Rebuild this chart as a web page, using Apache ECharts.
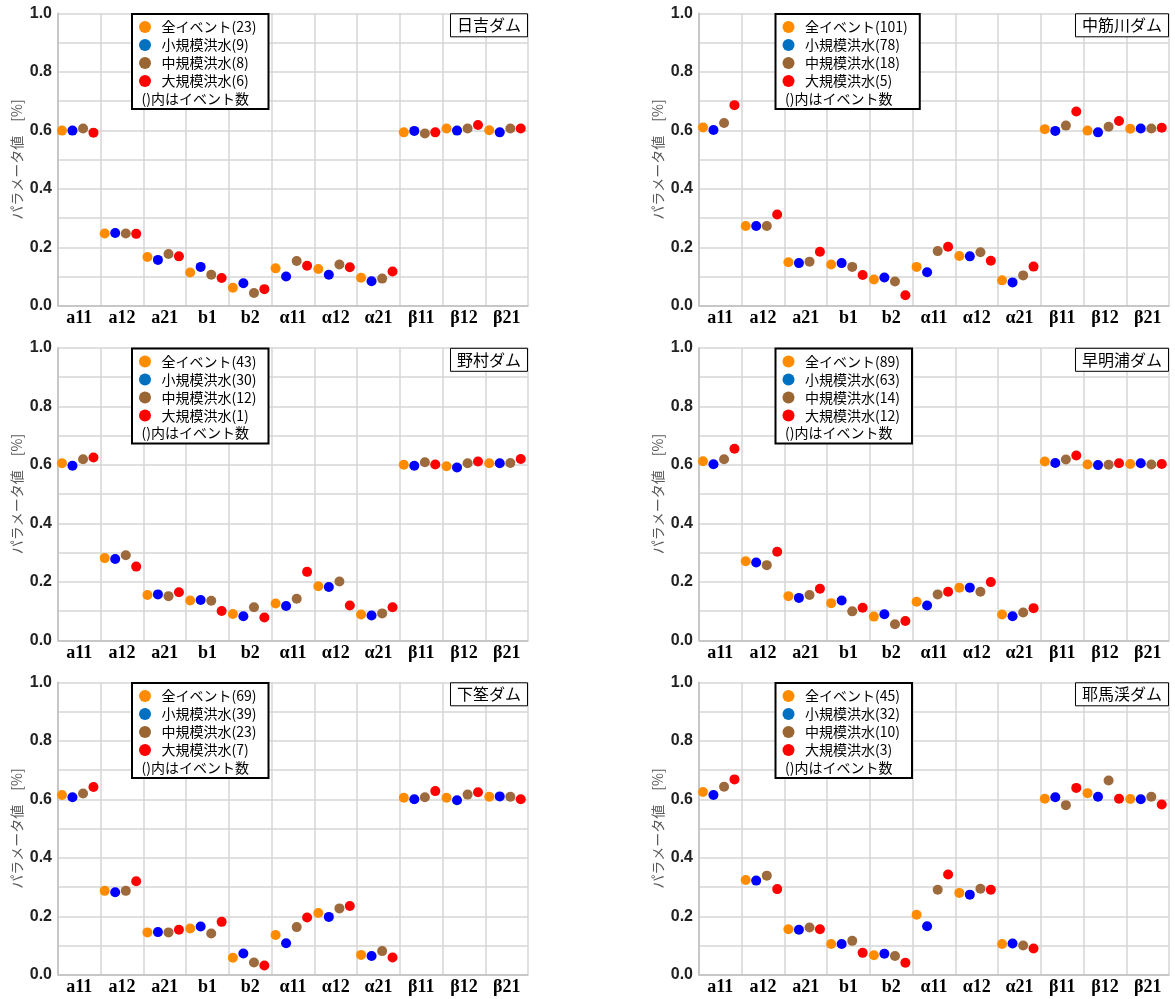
<!DOCTYPE html>
<html>
<head>
<meta charset="utf-8">
<script src="https://cdn.jsdelivr.net/npm/echarts@6/dist/echarts.min.js"></script>
<style>
html,body{margin:0;padding:0;background:#fff;}
#chart{width:1175px;height:999px;}
</style>
</head>
<body>
<div id="chart"></div>
<script>
// ---- categories / labels ----
const categories = ['a11','a12','a21','b1','b2','α11','α12','α21','β11','β12','β21'];
const yTicks = [0, 0.2, 0.4, 0.6, 0.8, 1.0];
const damNames = ['日吉ダム','中筋川ダム','野村ダム','早明浦ダム','下筌ダム','耶馬渓ダム'];
const groupNames = ['全イベント','小規模洪水','中規模洪水','大規模洪水'];
const noteText = '()内はイベント数';
const yAxisName = 'パラメータ値　[%]';

// event counts per dam: [all, small, medium, large]
const countsHiyoshi   = [23, 9, 8, 6];
const countsNakasuji  = [101, 78, 18, 5];
const countsNomura    = [43, 30, 12, 1];
const countsSameura   = [89, 63, 14, 12];
const countsShimouke  = [69, 39, 23, 7];
const countsYabakei   = [45, 32, 10, 3];

// ---- values (order: a11,a12,a21,b1,b2,α11,α12,α21,β11,β12,β21) ----
const hiyoshiAll    = [0.599,0.247,0.167,0.114,0.062,0.128,0.126,0.096,0.593,0.606,0.600];
const hiyoshiSmall  = [0.599,0.249,0.157,0.133,0.077,0.100,0.106,0.084,0.598,0.599,0.593];
const hiyoshiMedium = [0.606,0.247,0.177,0.106,0.044,0.153,0.141,0.093,0.589,0.606,0.606];
const hiyoshiLarge  = [0.592,0.246,0.169,0.095,0.057,0.137,0.132,0.117,0.593,0.618,0.606];

const nakasujiAll    = [0.610,0.273,0.149,0.141,0.090,0.133,0.170,0.087,0.604,0.599,0.605];
const nakasujiSmall  = [0.601,0.273,0.146,0.146,0.097,0.115,0.169,0.080,0.598,0.593,0.606];
const nakasujiMedium = [0.625,0.273,0.151,0.133,0.083,0.187,0.183,0.104,0.616,0.612,0.606];
const nakasujiLarge  = [0.686,0.312,0.185,0.105,0.036,0.202,0.154,0.134,0.664,0.632,0.609];

const nomuraAll    = [0.605,0.281,0.155,0.136,0.090,0.126,0.185,0.088,0.600,0.595,0.605];
const nomuraSmall  = [0.597,0.278,0.157,0.138,0.082,0.117,0.182,0.085,0.597,0.591,0.605];
const nomuraMedium = [0.619,0.291,0.151,0.135,0.113,0.142,0.201,0.092,0.609,0.605,0.606];
const nomuraLarge  = [0.625,0.252,0.164,0.100,0.078,0.234,0.119,0.113,0.601,0.611,0.620];

const sameuraAll    = [0.612,0.270,0.151,0.127,0.081,0.132,0.180,0.088,0.611,0.601,0.603];
const sameuraSmall  = [0.602,0.266,0.145,0.136,0.089,0.119,0.180,0.082,0.606,0.599,0.605];
const sameuraMedium = [0.619,0.257,0.155,0.099,0.055,0.157,0.166,0.095,0.618,0.600,0.601];
const sameuraLarge  = [0.655,0.303,0.176,0.111,0.066,0.166,0.199,0.110,0.632,0.605,0.603];

const shimoukeAll    = [0.615,0.287,0.145,0.158,0.058,0.136,0.211,0.068,0.605,0.605,0.609];
const shimoukeSmall  = [0.607,0.282,0.146,0.165,0.073,0.108,0.198,0.064,0.600,0.597,0.610];
const shimoukeMedium = [0.620,0.287,0.145,0.141,0.042,0.163,0.227,0.081,0.607,0.616,0.609];
const shimoukeLarge  = [0.642,0.320,0.154,0.181,0.032,0.196,0.235,0.059,0.628,0.624,0.600];

const yabakeiAll    = [0.625,0.324,0.156,0.105,0.067,0.205,0.280,0.105,0.602,0.621,0.601];
const yabakeiSmall  = [0.615,0.322,0.154,0.105,0.072,0.166,0.274,0.107,0.607,0.609,0.600];
const yabakeiMedium = [0.643,0.339,0.162,0.116,0.064,0.291,0.294,0.100,0.580,0.664,0.609];
const yabakeiLarge  = [0.668,0.293,0.156,0.075,0.041,0.343,0.291,0.090,0.639,0.602,0.582];

const panelData = [
  [hiyoshiAll, hiyoshiSmall, hiyoshiMedium, hiyoshiLarge],
  [nakasujiAll, nakasujiSmall, nakasujiMedium, nakasujiLarge],
  [nomuraAll, nomuraSmall, nomuraMedium, nomuraLarge],
  [sameuraAll, sameuraSmall, sameuraMedium, sameuraLarge],
  [shimoukeAll, shimoukeSmall, shimoukeMedium, shimoukeLarge],
  [yabakeiAll, yabakeiSmall, yabakeiMedium, yabakeiLarge]
];
const panelCounts = [countsHiyoshi, countsNakasuji, countsNomura, countsSameura, countsShimouke, countsYabakei];

// ---- styling ----
const markColors   = ['#FF8C00', '#0000FF', '#9C6A3C', '#FF0000'];
const legendColors = ['#FF8C00', '#0070C0', '#996633', '#FF0000'];
const dodge = [-17.4, -6.9, 3.7, 14.1];
const colLeft = [58, 699];
const rowTop = [13.3, 347.8, 682.3];
const plotW = 470, plotH = 292.5;
const legendLeft = [132, 775.5];
const cjk = '"Noto Sans CJK JP", "Noto Sans", sans-serif';
const gridColor = '#d6d6d6';

const grids = [], xAxes = [], yAxes = [], series = [], legends = [], titles = [], graphics = [];

for (let p = 0; p < 6; p++) {
  const col = p % 2, row = Math.floor(p / 2);
  const left = colLeft[col], top = rowTop[row];
  grids.push({ left: left, top: top, width: plotW, height: plotH, containLabel: false });
  xAxes.push({
    type: 'category', gridIndex: p, data: categories, boundaryGap: true,
    axisLine: { show: true, lineStyle: { color: '#bfbfbf', width: 1.5 } },
    axisTick: { show: false },
    splitLine: { show: true, interval: 0, lineStyle: { color: gridColor, width: 1.5 } },
    axisLabel: { interval: 0, margin: 4, color: '#000', fontSize: 18, fontWeight: 'bold',
      fontFamily: '"Liberation Serif", "DejaVu Serif", serif' }
  });
  yAxes.push({
    type: 'value', gridIndex: p, min: yTicks[0], max: yTicks[yTicks.length - 1], interval: 0.2,
    name: yAxisName, nameLocation: 'middle', nameGap: 34,
    nameTextStyle: { color: '#595959', fontSize: 14, fontFamily: cjk },
    axisLine: { show: true, lineStyle: { color: '#bfbfbf', width: 1.5 } },
    axisTick: { show: false },
    splitLine: { show: true, lineStyle: { color: gridColor, width: 1.5 } },
    minorTick: { show: false, splitNumber: 2 },
    minorSplitLine: { show: true, lineStyle: { color: gridColor, width: 1.5 } },
    axisLabel: { margin: 6, color: '#222', fontSize: 16, fontWeight: 'bold',
      fontFamily: '"Liberation Sans", Arial, sans-serif',
      formatter: v => v.toFixed(1) }
  });
  const names = groupNames.map((g, k) => g + '(' + panelCounts[p][k] + ')');
  for (let k = 0; k < 4; k++) {
    series.push({
      type: 'scatter', name: names[k], xAxisIndex: p, yAxisIndex: p,
      data: panelData[p][k], symbol: 'circle', symbolSize: 10,
      symbolOffset: [dodge[k], 0],
      itemStyle: { color: markColors[k], opacity: 1 },
      emphasis: { disabled: true }, z: 3 + k
    });
  }
  legends.push({
    orient: 'vertical', left: legendLeft[col], top: top + 0.7,
    data: names.map((n, k) => ({ name: n, icon: 'circle', itemStyle: { color: legendColors[k] } })),
    itemWidth: 23, itemHeight: 12, itemGap: 4,
    padding: [6, 12, 21, 7],
    backgroundColor: '#fff', borderColor: '#000', borderWidth: 2,
    textStyle: { fontSize: 14, color: '#000', fontFamily: cjk, lineHeight: 12 },
    selectedMode: false
  });
  titles.push({
    text: damNames[p], right: 1175 - (left + plotW), top: top,
    backgroundColor: '#fff', borderColor: '#000', borderWidth: 1,
    padding: [4, 7, 4, 7],
    textStyle: { fontSize: 16, fontWeight: 'normal', color: '#000', fontFamily: cjk }
  });
  graphics.push({
    type: 'text', left: legendLeft[col] + 9.5, top: top + 78, z: 100,
    style: { text: noteText, fontSize: 14, fontFamily: cjk, fill: '#000' }
  });
}

const chart = echarts.init(document.getElementById('chart'), null, { renderer: 'canvas' });
chart.setOption({
  backgroundColor: '#fff',
  animation: false,
  title: titles,
  legend: legends,
  grid: grids,
  xAxis: xAxes,
  yAxis: yAxes,
  series: series,
  graphic: graphics
});
</script>
</body>
</html>
